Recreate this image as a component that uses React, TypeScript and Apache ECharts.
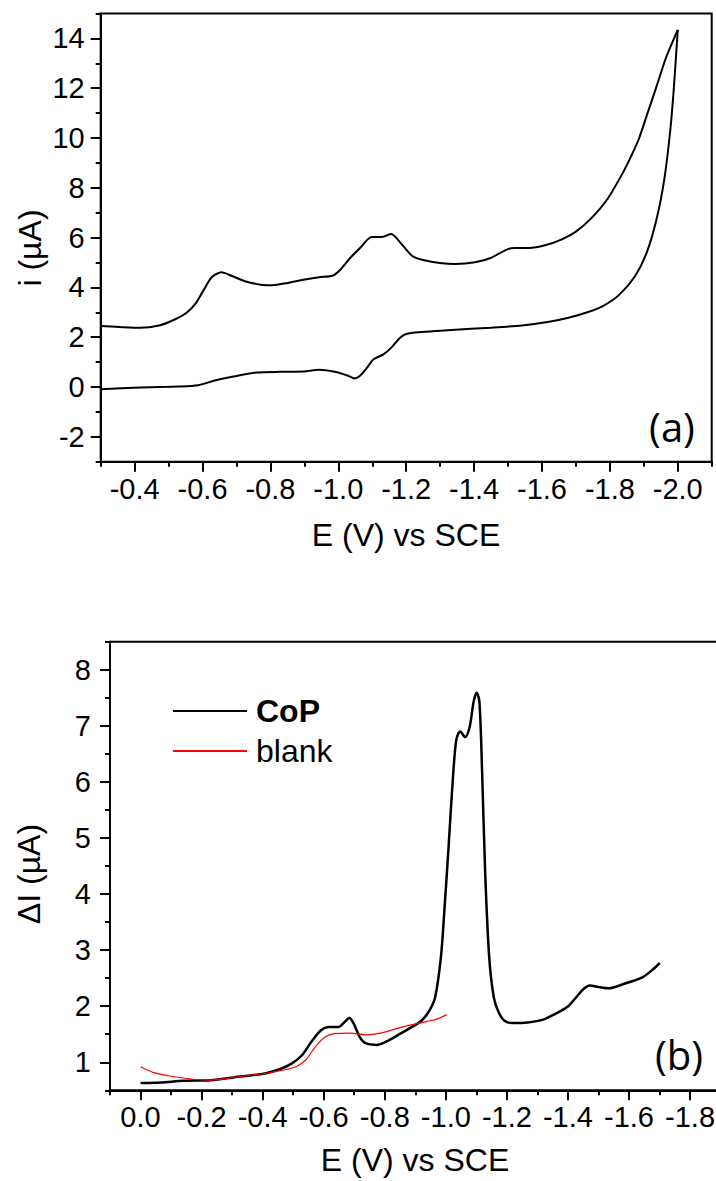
import React, { useEffect, useRef } from "react";
import * as echarts from "echarts";

// ---------- Data: panel (a) cyclic voltammogram, [E (V), i (µA)] ----------
const cvForward: number[][] = [
  [-0.300, 2.45], [-0.357, 2.41], [-0.415, 2.38], [-0.472, 2.47], [-0.518, 2.71],
  [-0.553, 2.98], [-0.581, 3.38], [-0.604, 3.91], [-0.627, 4.41], [-0.656, 4.61],
  [-0.685, 4.47], [-0.725, 4.25], [-0.771, 4.11], [-0.805, 4.09], [-0.851, 4.18],
  [-0.897, 4.31], [-0.943, 4.41], [-0.983, 4.47], [-1.006, 4.71], [-1.035, 5.18],
  [-1.064, 5.58], [-1.098, 6.02], [-1.127, 6.02], [-1.156, 6.14], [-1.184, 5.78],
  [-1.219, 5.25], [-1.253, 5.09], [-1.299, 4.98], [-1.345, 4.94], [-1.403, 5.01],
  [-1.449, 5.18], [-1.495, 5.51], [-1.518, 5.58], [-1.563, 5.58], [-1.609, 5.69],
  [-1.655, 5.91], [-1.701, 6.25], [-1.747, 6.80], [-1.793, 7.55], [-1.839, 8.62],
  [-1.862, 9.25], [-1.885, 9.95], [-1.911, 11.0], [-1.931, 11.8], [-1.950, 12.6],
  [-1.966, 13.25], [-2.000, 14.34],
];
const cvReverse: number[][] = [
  [-2.000, 14.34], [-1.988, 11.91], [-1.977, 10.18], [-1.960, 8.31], [-1.937, 6.71],
  [-1.908, 5.38], [-1.874, 4.45], [-1.828, 3.71], [-1.782, 3.27], [-1.736, 3.01],
  [-1.678, 2.78], [-1.621, 2.62], [-1.541, 2.47], [-1.449, 2.38], [-1.334, 2.29],
  [-1.219, 2.18], [-1.196, 2.11], [-1.179, 1.94], [-1.156, 1.58], [-1.133, 1.31],
  [-1.104, 1.11], [-1.081, 0.71], [-1.064, 0.45], [-1.047, 0.34], [-1.029, 0.45],
  [-0.989, 0.61], [-0.943, 0.69], [-0.897, 0.62], [-0.828, 0.61], [-0.759, 0.58],
  [-0.691, 0.42], [-0.633, 0.25], [-0.587, 0.07], [-0.530, 0.02], [-0.415, -0.02],
  [-0.300, -0.09],
];

// ---------- Data: panel (b) differential pulse, [E (V), ΔI (µA)] ----------
const copCurve: number[][] = [
  [0.000, 0.63], [-0.066, 0.64], [-0.142, 0.67], [-0.230, 0.68], [-0.306, 0.73],
  [-0.408, 0.80], [-0.458, 0.88], [-0.496, 0.98], [-0.528, 1.12], [-0.559, 1.36],
  [-0.591, 1.57], [-0.616, 1.63], [-0.648, 1.63], [-0.667, 1.71], [-0.684, 1.79],
  [-0.699, 1.68], [-0.718, 1.45], [-0.737, 1.34], [-0.775, 1.31], [-0.813, 1.39],
  [-0.851, 1.51], [-0.889, 1.63], [-0.920, 1.74], [-0.946, 1.92], [-0.965, 2.16],
  [-0.984, 2.88], [-0.996, 3.77], [-1.009, 4.84], [-1.022, 5.97], [-1.034, 6.74],
  [-1.047, 6.90], [-1.063, 6.80], [-1.078, 6.98], [-1.091, 7.43], [-1.101, 7.59],
  [-1.110, 7.43], [-1.119, 6.15], [-1.129, 4.36], [-1.142, 2.88], [-1.157, 2.16],
  [-1.173, 1.89], [-1.192, 1.74], [-1.218, 1.70], [-1.268, 1.71], [-1.319, 1.76],
  [-1.357, 1.86], [-1.401, 2.00], [-1.427, 2.16], [-1.452, 2.31], [-1.471, 2.37],
  [-1.503, 2.34], [-1.534, 2.32], [-1.585, 2.40], [-1.642, 2.51], [-1.673, 2.63],
  [-1.701, 2.77],
];
const blankCurve: number[][] = [
  [0.000, 0.92], [-0.041, 0.82], [-0.091, 0.76], [-0.154, 0.71], [-0.218, 0.68],
  [-0.281, 0.71], [-0.344, 0.76], [-0.408, 0.80], [-0.458, 0.85], [-0.509, 0.92],
  [-0.541, 1.04], [-0.572, 1.27], [-0.604, 1.45], [-0.635, 1.51], [-0.686, 1.52],
  [-0.737, 1.49], [-0.787, 1.52], [-0.838, 1.60], [-0.889, 1.67], [-0.939, 1.73],
  [-0.971, 1.77], [-1.003, 1.85],
];

// ---------- Tick values ----------
const aXMajor = [-4, -6, -8, -10, -12, -14, -16, -18, -20].map((v) => v / 10);
const aXMinor = [-3, -5, -7, -9, -11, -13, -15, -17, -19, -21].map((v) => v / 10);
const aYMajor = [-2, 0, 2, 4, 6, 8, 10, 12, 14];
const aYMinor = [-3, -1, 1, 3, 5, 7, 9, 11, 13, 15];
const bXMajor = [0, -2, -4, -6, -8, -10, -12, -14, -16, -18].map((v) => v / 10);
const bXMinor = [1, -1, -3, -5, -7, -9, -11, -13, -15, -17, -19].map((v) => v / 10);
const bYMajor = [1, 2, 3, 4, 5, 6, 7, 8];
const bYMinor = [0.5, 1.5, 2.5, 3.5, 4.5, 5.5, 6.5, 7.5, 8.5];

const FONT = "'Liberation Sans', Arial, sans-serif";
const BLACK = "#000";
const TICK_FS = 29;
const TITLE_FS = 32;

function labelStyle(margin: number, fmt: (v: number) => string, values: number[]) {
  return {
    show: true, customValues: values, margin,
    fontSize: TICK_FS, fontFamily: FONT, color: BLACK,
    formatter: fmt,
  };
}

function xAxes(grid: number, min: number, max: number, major: number[], minor: number[], margin: number) {
  return [
    {
      type: "value", gridIndex: grid, position: "bottom", inverse: true, min, max,
      axisLine: { show: true, onZero: false, lineStyle: { color: BLACK, width: 2 } },
      axisTick: { show: true, customValues: major, length: 10, lineStyle: { color: BLACK, width: 2 } },
      axisLabel: labelStyle(margin, (v: number) => v.toFixed(1), major),
      splitLine: { show: false },
    },
    {
      type: "value", gridIndex: grid, position: "bottom", inverse: true, min, max,
      axisLine: { show: false, onZero: false },
      axisTick: { show: true, customValues: minor, length: 5, lineStyle: { color: BLACK, width: 2 } },
      axisLabel: { show: false },
      splitLine: { show: false },
    },
  ];
}

function yAxes(grid: number, min: number, max: number, major: number[], minor: number[], margin: number) {
  return [
    {
      type: "value", gridIndex: grid, position: "left", min, max,
      axisLine: { show: true, onZero: false, lineStyle: { color: BLACK, width: 2 } },
      axisTick: { show: true, customValues: major, length: 10, lineStyle: { color: BLACK, width: 2 } },
      axisLabel: labelStyle(margin, (v: number) => String(v), major),
      splitLine: { show: false },
    },
    {
      type: "value", gridIndex: grid, position: "left", min, max,
      axisLine: { show: false, onZero: false },
      axisTick: { show: true, customValues: minor, length: 5, lineStyle: { color: BLACK, width: 2 } },
      axisLabel: { show: false },
      splitLine: { show: false },
    },
  ];
}

export default function App() {
  const ref = useRef<HTMLDivElement>(null);

  useEffect(() => {
    document.body.style.margin = "0";
    if (!ref.current) return;
    const chart = echarts.init(ref.current, undefined, { renderer: "svg" });

    const option: any = {
      animation: false,
      backgroundColor: "#fff",
      grid: [
        {
          left: 100.7, top: 13.5, width: 611, height: 448.2, show: true, borderColor: BLACK, borderWidth: 2,
          outerBoundsMode: "none", containLabel: false,
        },
        {
          left: 110, top: 641.7, width: 610.6, height: 448.6, show: true, borderColor: BLACK, borderWidth: 2,
          outerBoundsMode: "none", containLabel: false,
        },
      ],
      xAxis: [
        ...xAxes(0, -2.1, -0.3, aXMajor, aXMinor, 13),
        ...xAxes(1, -1.9, 0.1, bXMajor, bXMinor, 12),
      ],
      yAxis: [
        ...yAxes(0, -3, 15, aYMajor, aYMinor, 16),
        ...yAxes(1, 0.5, 8.5, bYMajor, bYMinor, 19),
      ],
      legend: {
        data: ["CoP", "blank"],
        orient: "vertical",
        left: 172,
        top: 695,
        padding: 0,
        itemWidth: 74,
        itemHeight: 14,
        itemGap: 8,
        itemStyle: { opacity: 0 },
        formatter: (name: string) => (name === "CoP" ? "{b|CoP}" : "{n|blank}"),
        textStyle: {
          fontSize: 32, fontFamily: FONT, color: BLACK, padding: [0, 0, 0, 4],
          rich: {
            b: { fontSize: 32, fontFamily: FONT, fontWeight: "bold", color: BLACK, lineHeight: 32 },
            n: { fontSize: 32, fontFamily: FONT, color: BLACK, lineHeight: 32 },
          },
        },
      },
      series: [
        {
          name: "forward", type: "line", xAxisIndex: 0, yAxisIndex: 0, data: cvForward,
          showSymbol: false, symbol: "none", smooth: 0.25,
          lineStyle: { color: BLACK, width: 2 }, itemStyle: { color: BLACK },
        },
        {
          name: "reverse", type: "line", xAxisIndex: 0, yAxisIndex: 0, data: cvReverse,
          showSymbol: false, symbol: "none", smooth: 0.25,
          lineStyle: { color: BLACK, width: 2 }, itemStyle: { color: BLACK },
        },
        {
          name: "CoP", type: "line", xAxisIndex: 2, yAxisIndex: 2, data: copCurve,
          showSymbol: false, symbol: "none", smooth: 0.3,
          lineStyle: { color: BLACK, width: 2.5 }, itemStyle: { color: BLACK },
        },
        {
          name: "blank", type: "line", xAxisIndex: 2, yAxisIndex: 2, data: blankCurve,
          showSymbol: false, symbol: "none", smooth: 0.3,
          lineStyle: { color: "#ff0000", width: 1.2 }, itemStyle: { color: "#ff0000" },
        },
      ],
      graphic: [
        {
          type: "text", x: 30, y: 248, rotation: Math.PI / 2,
          style: { text: "i (µA)", fontSize: TITLE_FS, fontFamily: FONT, fill: BLACK, align: "center", verticalAlign: "middle" },
        },
        {
          type: "text", x: 406, y: 535,
          style: { text: "E (V) vs SCE", fontSize: TITLE_FS, fontFamily: FONT, fill: BLACK, align: "center", verticalAlign: "middle" },
        },
        {
          type: "text", x: 672, y: 426,
          style: { text: "(a)", fontSize: 40, fontFamily: "'Open Sans', sans-serif", fill: BLACK, align: "center", verticalAlign: "middle" },
        },
        {
          type: "text", x: 29, y: 874, rotation: Math.PI / 2,
          style: { text: "ΔI (µA)", fontSize: TITLE_FS, fontFamily: FONT, fill: BLACK, align: "center", verticalAlign: "middle" },
        },
        {
          type: "text", x: 415, y: 1160,
          style: { text: "E (V) vs SCE", fontSize: TITLE_FS, fontFamily: FONT, fill: BLACK, align: "center", verticalAlign: "middle" },
        },
        {
          type: "text", x: 679, y: 1054,
          style: { text: "(b)", fontSize: 40, fontFamily: "'Open Sans', sans-serif", fill: BLACK, align: "center", verticalAlign: "middle" },
        },
      ],
    };

    chart.setOption(option);
    return () => chart.dispose();
  }, []);

  return <div ref={ref} style={{ width: 716, height: 1181 }} />;
}
